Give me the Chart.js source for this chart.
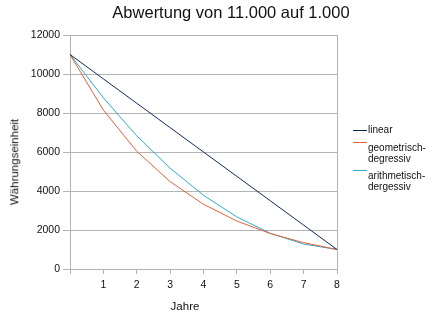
<!DOCTYPE html>
<html>
<head>
<meta charset="utf-8">
<script src="https://cdn.jsdelivr.net/npm/chart.js@4/dist/chart.umd.min.js"></script>
<style>
  html, body { margin: 0; padding: 0; background: #fff; }
  #wrap { position: relative; width: 437px; height: 327px; font-family: "Liberation Sans", Arial, sans-serif; color: #111; }
  #chart { position: absolute; left: 0; top: 0; }
  .lbl { position: absolute; white-space: nowrap; line-height: 1; }
  #title { left: 231px; top: 4px; font-size: 16.5px; transform: translateX(-50%); }
  #xtitle { left: 185px; top: 301px; font-size: 11.5px; transform: translateX(-50%); }
  #ytitle { left: 15px; top: 162px; font-size: 11.5px; transform: translate(-50%, -50%) rotate(-90deg); }
  .leg { font-family: "Liberation Sans Narrow", "Arial Narrow", "Liberation Sans", sans-serif; font-size: 10px; color: #111; }
  .swatch { position: absolute; width: 14px; height: 1px; }
</style>
</head>
<body>
<div id="wrap">
  <canvas id="chart" width="437" height="327"></canvas>
  <div class="lbl" id="title">Abwertung von 11.000 auf 1.000</div>
  <div class="lbl" id="xtitle">Jahre</div>
  <div class="lbl" id="ytitle">Währungseinheit</div>
  <div id="legend"></div>
</div>
<script>
// ── Data ────────────────────────────────────────────────────────────────────
const YEARS = ['0', '1', '2', '3', '4', '5', '6', '7', '8'];
const LINEAR = [11000, 9750, 8500, 7250, 6000, 4750, 3500, 2250, 1000];
const GEOMETRISCH = [11000, 8150, 6040, 4480, 3320, 2460, 1820, 1350, 1000];
const ARITHMETISCH = [11000, 8780, 6830, 5170, 3780, 2670, 1830, 1280, 1000];
const Y_TICKS = [0, 2000, 4000, 6000, 8000, 10000, 12000];

const SERIES = [
  { name: ['linear'], data: LINEAR, color: '#0e2c58', lineY: 130, textY: 125 },
  { name: ['geometrisch-', 'degressiv'], data: GEOMETRISCH, color: '#e2603a', lineY: 142, textY: 143 },
  { name: ['arithmetisch-', 'dergessiv'], data: ARITHMETISCH, color: '#2aaed0', lineY: 170, textY: 171 },
];

const GRID = '#b3b3b3';
const TICK_FONT = { family: "'Liberation Sans', Arial, sans-serif", size: 10.5 };

// ── Legend (plain HTML, placed like the original) ───────────────────────────
const legend = document.getElementById('legend');
SERIES.forEach(s => {
  const sw = document.createElement('div');
  sw.className = 'swatch';
  sw.style.cssText = `left:353px; top:${s.lineY}px; background:${s.color};`;
  legend.appendChild(sw);
  s.name.forEach((line, i) => {
    const t = document.createElement('div');
    t.className = 'lbl leg';
    t.style.cssText = `left:368px; top:${s.textY + i * 11}px;`;
    t.textContent = line;
    legend.appendChild(t);
  });
});

// ── Chart ───────────────────────────────────────────────────────────────────
new Chart(document.getElementById('chart'), {
  type: 'line',
  data: {
    labels: YEARS,
    datasets: SERIES.map(s => ({
      label: s.name.join(''),
      data: s.data,
      borderColor: s.color,
      backgroundColor: s.color,
      borderWidth: 1,
      pointRadius: 0,
      tension: 0,
      fill: false,
    })),
  },
  options: {
    responsive: false,
    animation: false,
    layout: { padding: { top: 35, right: 100, bottom: 0, left: 0 } },
    plugins: { legend: { display: false }, title: { display: false }, tooltip: { enabled: false } },
    scales: {
      x: {
        offset: false,
        afterFit: sc => { sc.height = 58; },
        grid: {
          color: ctx => (ctx.index === YEARS.length - 1 ? GRID : 'rgba(0,0,0,0)'),
          tickColor: GRID,
          tickLength: 5,
          drawOnChartArea: true,
        },
        border: { display: true, color: GRID },
        ticks: {
          color: '#111',
          font: TICK_FONT,
          padding: 5,
          maxRotation: 0,
          autoSkip: false,
          callback: (v, i) => (i === 0 ? '' : YEARS[i]),
        },
      },
      y: {
        min: Y_TICKS[0],
        max: Y_TICKS[Y_TICKS.length - 1],
        afterFit: sc => { sc.width = 70; },
        afterBuildTicks: sc => { sc.ticks = Y_TICKS.map(v => ({ value: v })); },
        grid: { color: GRID, tickColor: GRID, tickLength: 7 },
        border: { display: true, color: GRID },
        ticks: {
          color: '#111',
          font: TICK_FONT,
          padding: 3,
          callback: v => String(v),
        },
      },
    },
  },
});
</script>
</body>
</html>
